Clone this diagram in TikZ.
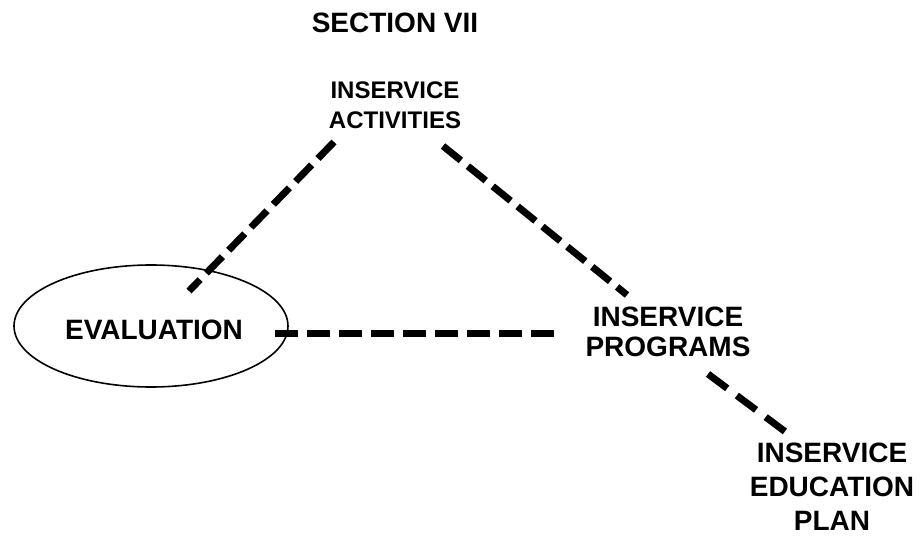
\documentclass[tikz,border=0pt]{standalone}
\usepackage{fontspec}
\setmainfont{Liberation Sans}
\usetikzlibrary{shapes.geometric}
\tikzset{
  lbl/.style={font=\bfseries\fontsize{28}{30}\selectfont, align=center, inner sep=0pt},
  lblsmall/.style={font=\bfseries\fontsize{24}{30}\selectfont, align=center, inner sep=0pt},
  lbltall/.style={font=\bfseries\fontsize{28}{34}\selectfont, align=center, inner sep=0pt},
  dashlink/.style={line width=7pt, dash pattern=on 23pt off 9pt},
  evalbox/.style={ellipse, draw, line width=1.6pt, minimum width=274pt, minimum height=122pt, inner sep=0pt}
}
\begin{document}
\begin{tikzpicture}[x=1pt,y=-1pt]
\useasboundingbox (0,0) rectangle (923,537);
\node[font=\bfseries\fontsize{28}{30}\selectfont, inner sep=0pt] (title) at (395,23) {SECTION VII};
\node[lblsmall] (act) at (395,105) {INSERVICE\\ACTIVITIES};
\node[evalbox] (evalell) at (151,326) {};
\node[lbl] (eval) at (154,330) {EVALUATION};
\node[lbl] (prog) at (668,332) {INSERVICE\\PROGRAMS};
\node[lbltall] (edu) at (832,487) {INSERVICE\\EDUCATION\\PLAN};
\coordinate (a1) at (334,142);
\coordinate (a2) at (189,291);
\coordinate (b1) at (443,146);
\coordinate (b2) at (627,295);
\coordinate (c1) at (275,333);
\coordinate (c2) at (562,333);
\coordinate (d1) at (708,374);
\coordinate (d2) at (791,436);
\draw[dashlink] (a1) -- (a2);
\draw[dashlink] (b1) -- (b2);
\draw[dashlink] (c1) -- (c2);
\draw[dashlink, dash pattern=on 24pt off 12pt] (d1) -- (d2);
\end{tikzpicture}
\end{document}
